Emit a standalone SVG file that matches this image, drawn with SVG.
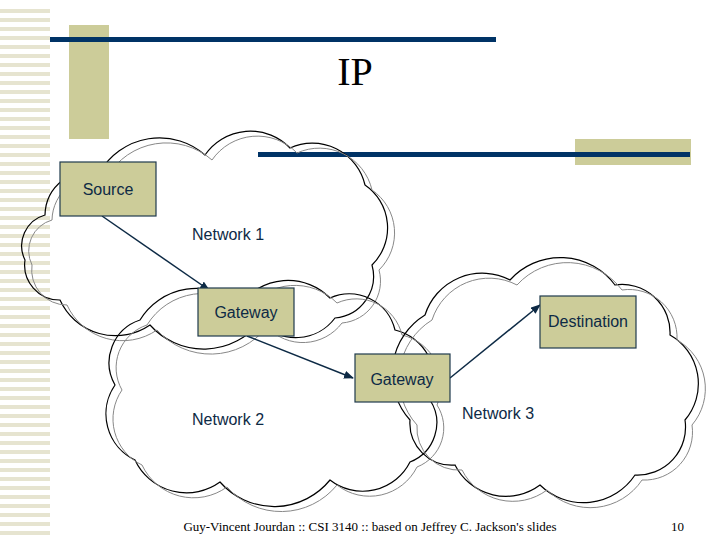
<svg xmlns="http://www.w3.org/2000/svg" width="720" height="540" viewBox="0 0 720 540">
<style>
.c{fill:none;stroke:#000;stroke-width:1.2}
.g{fill:none;stroke:#888;stroke-width:1}
.box{fill:#cccc99;stroke:#1f3a4d;stroke-width:1.2}
.t{font-family:"Liberation Sans",Arial,sans-serif;font-size:16px;fill:#0d2a45}
.e{stroke:#0d2a45;stroke-width:1.5;fill:none;marker-end:url(#a)}
</style>
<defs>
<pattern id="st" width="50" height="9" patternUnits="userSpaceOnUse"><rect width="50" height="4" fill="#e6e4d0"/></pattern>
<marker id="a" markerWidth="10" markerHeight="8" refX="9" refY="4" orient="auto" markerUnits="userSpaceOnUse"><path d="M0,0 L10,4 L0,8 Z" fill="#0d2a45"/></marker>
<path id="c1" d="M45,215 A45,45 0 0 1 100,172 A69,69 0 0 1 205,155 A55,55 0 0 1 290,148 A54,54 0 0 1 365,185 A52,52 0 0 1 372,265 A42,42 0 0 1 335,318 A49,49 0 0 1 260,322 A72,72 0 0 1 150,325 A61,61 0 0 1 60,300 A35,35 0 0 1 25,260 A32,32 0 0 1 45,215 Z"/>
<path id="c2" d="M115,385 A45,45 0 0 1 140,320 A66,66 0 0 1 240,305 A59,59 0 0 1 330,298 A47,47 0 0 1 395,330 A51,51 0 0 1 430,400 A42,42 0 0 1 410,462 A53,53 0 0 1 330,480 A72,72 0 0 1 220,482 A57,57 0 0 1 135,460 A51,51 0 0 1 115,385 Z"/>
<path id="c3" d="M425,315 A60,60 0 0 1 510,280 A68,68 0 0 1 615,285 A48,48 0 0 1 670,335 A56,56 0 0 1 685,420 A48,48 0 0 1 635,475 A62,62 0 0 1 540,485 A57,57 0 0 1 455,465 A42,42 0 0 1 410,420 A69,69 0 0 1 425,315 Z"/>
</defs>
<rect width="720" height="540" fill="#fff"/>
<rect x="0" y="4" width="50" height="536" fill="url(#st)"/>
<rect x="69" y="25" width="40" height="114" fill="#cccc99"/>
<rect x="50" y="37" width="446" height="5" fill="#003366"/>
<rect x="575" y="139" width="116" height="26" fill="#cccc99"/>
<rect x="258" y="152" width="432" height="5" fill="#003366"/>
<text x="355" y="85" font-family="Liberation Serif,serif" font-size="40" text-anchor="middle" fill="#000">IP</text>
<g id="clouds">
<use href="#c1" class="c"/><use href="#c1" class="g" transform="translate(7,5)"/>
<use href="#c2" class="c"/><use href="#c2" class="g" transform="translate(7,5)"/>
<use href="#c3" class="c"/><use href="#c3" class="g" transform="translate(7,5)"/>
</g>
<text class="t" x="192" y="240">Network 1</text>
<text class="t" x="192" y="425">Network 2</text>
<text class="t" x="462" y="419">Network 3</text>
<g id="edges">
<path class="e" d="M102,216 L209,290"/>
<path class="e" d="M247,336 L353,378"/>
<path class="e" d="M450,378 L540,305"/>
</g>
<g id="source"><rect class="box" x="60" y="162" width="96" height="54"/><text class="t" x="108" y="195" text-anchor="middle">Source</text></g>
<g id="gateway1"><rect class="box" x="198" y="288" width="96" height="48"/><text class="t" x="246" y="318" text-anchor="middle">Gateway</text></g>
<g id="destination"><rect class="box" x="540" y="296" width="96" height="52"/><text class="t" x="588" y="327" text-anchor="middle">Destination</text></g>
<g id="gateway2"><rect class="box" x="355" y="354" width="95" height="48"/><text class="t" x="402" y="385" text-anchor="middle">Gateway</text></g>
<text x="370" y="531" font-family="Liberation Serif,serif" font-size="13" text-anchor="middle" fill="#000">Guy-Vincent Jourdan :: CSI 3140 :: based on Jeffrey C. Jackson's slides</text>
<text x="684" y="531" font-family="Liberation Serif,serif" font-size="13" text-anchor="end" fill="#000">10</text>
</svg>
